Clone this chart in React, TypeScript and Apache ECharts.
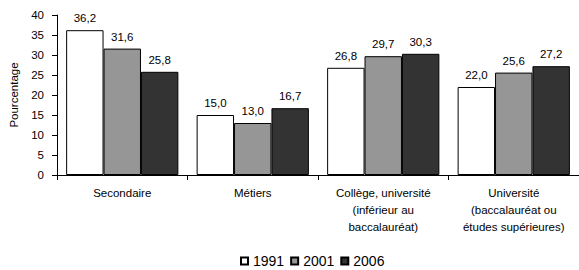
import React, { useEffect, useRef } from "react";
import * as echarts from "echarts";

const categories = [
  "Secondaire",
  "Métiers",
  "Collège, université\n(inférieur au\nbaccalauréat)",
  "Université\n(baccalauréat ou\nétudes supérieures)",
];
const years = ["1991", "2001", "2006"];
const values1991 = [36.2, 15.0, 26.8, 22.0];
const values2001 = [31.6, 13.0, 29.7, 25.6];
const values2006 = [25.8, 16.7, 30.3, 27.2];
const yTicks = [0, 5, 10, 15, 20, 25, 30, 35, 40];

const colors = ["#ffffff", "#969696", "#333333"];
const FONT = "'Liberation Sans', Arial, sans-serif";

export default function App() {
  const ref = useRef<HTMLDivElement>(null);
  useEffect(() => {
    document.body.style.margin = "0";
    const chart = echarts.init(ref.current!, null, { renderer: "svg" });
    const seriesData = [values1991, values2001, values2006];
    chart.setOption({
      animation: false,
      textStyle: { fontFamily: FONT, color: "#000" },
      grid: { left: 57, right: -3, top: 15, bottom: 95, containLabel: false },
      legend: {
        data: years,
        bottom: -3,
        left: 235,
        itemWidth: 7,
        itemHeight: 7,
        itemGap: 6,
        icon: "rect",
        textStyle: { fontFamily: FONT, fontSize: 14, color: "#000" },
      },
      xAxis: {
        type: "category",
        data: categories,
        axisLine: { lineStyle: { color: "#000", width: 1 } },
        axisTick: { show: true, alignWithLabel: false, length: 5, inside: false, lineStyle: { color: "#000" } },
        axisLabel: {
          fontFamily: FONT,
          fontSize: 11.5,
          color: "#000",
          lineHeight: 17,
          margin: 9,
          interval: 0,
        },
      },
      yAxis: {
        type: "value",
        min: yTicks[0],
        max: yTicks[yTicks.length - 1],
        interval: 5,
        name: "Pourcentage",
        nameLocation: "middle",
        nameGap: 37,
        nameTextStyle: { fontFamily: FONT, fontSize: 11.5, color: "#000" },
        axisLine: { show: true, lineStyle: { color: "#000", width: 1 } },
        axisTick: { show: true, length: 5, lineStyle: { color: "#000" } },
        splitLine: { show: false },
        axisLabel: { fontFamily: FONT, fontSize: 11.5, color: "#000", margin: 13 },
      },
      series: years.map((y, i) => ({
        name: y,
        type: "bar",
        data: seriesData[i],
        barGap: "0%",
        barCategoryGap: "14%",
        itemStyle: { color: colors[i], borderColor: "#000", borderWidth: 1 },
        label: {
          show: true,
          position: "top",
          distance: 6,
          fontFamily: FONT,
          fontSize: 11.5,
          color: "#000",
          formatter: (p: any) => Number(p.value).toFixed(1).replace(".", ","),
        },
      })),
    });
    return () => chart.dispose();
  }, []);
  return <div ref={ref} style={{ width: 579, height: 270 }} />;
}
